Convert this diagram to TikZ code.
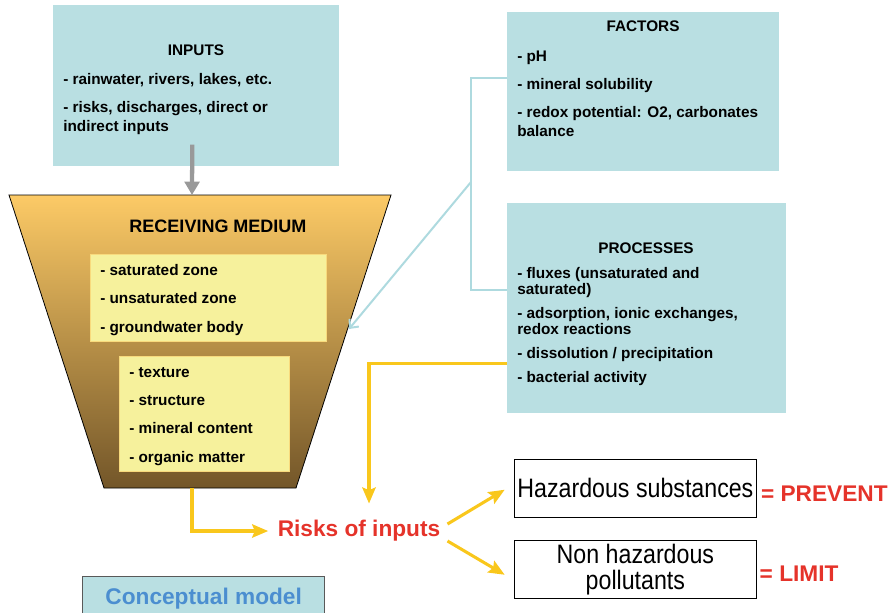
\documentclass[tikz,border=0pt]{standalone}
\usepackage{fontspec}
\setmainfont{Liberation Sans}
\newfontfamily\narrowfont[FakeStretch=0.87]{Liberation Sans}
\usetikzlibrary{arrows.meta,positioning}

\definecolor{boxteal}{HTML}{B9DFE2}
\definecolor{zoneyellow}{HTML}{F6F19C}
\definecolor{mediumtop}{HTML}{FCCA66}
\definecolor{mediummid}{HTML}{D7A24F}
\definecolor{mediumbot}{HTML}{735629}
\definecolor{flowyellow}{HTML}{F9C71C}
\definecolor{riskred}{HTML}{E5332A}
\definecolor{modelblue}{HTML}{4B8ED0}
\definecolor{linkteal}{HTML}{AEDADF}

\tikzset{
  tealbox/.style={fill=boxteal, anchor=north west, inner sep=0pt},
  boxtitle/.style={inner sep=0pt, font=\fontsize{11.5}{13.8}\selectfont\bfseries},
  items/.style={anchor=north west, inner sep=0pt, align=left, font=\fontsize{11.5}{13.8}\selectfont\bfseries},
  zonebox/.style={fill=zoneyellow, draw=zoneyellow!80!orange, line width=0.6pt, anchor=north west, inner sep=0pt},
  outcome/.style={draw, line width=0.6pt, anchor=north west, inner sep=0pt, align=center,
    minimum width=181.5pt, minimum height=43.5pt, font=\narrowfont\fontsize{20}{19.5}\selectfont},
  verdict/.style={inner sep=0pt, text=riskred, font=\fontsize{17}{20}\selectfont\bfseries},
  flow/.style={draw=flowyellow, line width=2.3pt, -{Stealth[length=12pt,width=10pt,inset=2pt]}},
  tline/.style={draw=linkteal, line width=1.5pt},
}

\begin{document}
\begin{tikzpicture}[x=0.75pt,y=-0.75pt]
\useasboundingbox (0,0) rectangle (893,612);
\clip (0,0) rectangle (893,612);

% inputs
\node[tealbox, minimum width=214.5pt, minimum height=120.75pt] (inputs) at (53,5) {};
\node[boxtitle] (inputs-title) at (196,50) {INPUTS};
\node[items] (inputs-items) at (63,73) {- rainwater, rivers, lakes, etc.\\[7.2pt]
  - risks, discharges, direct or\\[0.45pt] indirect inputs};

% receiving medium
\shade[top color=mediumtop, middle color=mediummid, bottom color=mediumbot, draw=black, line width=0.6pt]
  (9,195) -- (391,195) -- (296,488) -- (104,488) -- cycle;
\coordinate (mtop) at (192,195);
\coordinate (mbottom) at (192,488);
\coordinate (medge) at (349,329);
\node[inner sep=0pt, font=\fontsize{13.5}{16}\selectfont\bfseries] (medium) at (218,226) {RECEIVING MEDIUM};
\node[zonebox, minimum width=177pt, minimum height=65.25pt] (zones) at (90,254) {};
\node[items] (zones-items) at (100,264) {- saturated zone\\[7.6pt] - unsaturated zone\\[7.6pt] - groundwater body};
\node[zonebox, minimum width=127.5pt, minimum height=86.25pt] (soil) at (119,356) {};
\node[items] (soil-items) at (129,367) {- texture\\[7.4pt] - structure\\[7.4pt] - mineral content\\[7.4pt] - organic matter};

\draw[draw=black!40, line width=3.2pt, -{Triangle[length=10pt,width=11pt]}]
  ([shift={(-4,-22)}]inputs.south) -- (mtop);

% factors and processes
\node[tealbox, minimum width=204pt, minimum height=119.25pt] (factors) at (507,12) {};
\node[boxtitle] (factors-title) at (643,26) {FACTORS};
\node[items] (factors-items) at (517,51) {- pH\\[7.2pt] - mineral solubility\\[7.2pt]
  - redox potential: O2, carbonates\\[0.45pt] balance};

\node[tealbox, minimum width=209.25pt, minimum height=157.5pt] (processes) at (507,203) {};
\node[boxtitle] (processes-title) at (646,248) {PROCESSES};
\node[items, font=\fontsize{11.5}{12}\selectfont\bfseries] (processes-items) at (517,267)
  {- fluxes (unsaturated and\\ saturated)\\[6pt] - adsorption, ionic exchanges,\\ redox reactions\\[6pt]
   - dissolution / precipitation\\[6pt] - bacterial activity};

\coordinate (fork) at (471,182);
\draw[tline] ([yshift=10.1pt]factors.west) -- ++(-36,0) |- ([yshift=13.5pt]processes.west);
\draw[tline, -{Straight Barb[length=5pt,width=9pt]}] (fork) -- (medge);

% risks
\node[verdict] (risks) at (359,531) {Risks of inputs};
\draw[flow] ([yshift=37.5pt]processes.south west) -| ([xshift=7.5pt, yshift=12.5pt]risks.north);
\draw[flow] (mbottom) |- ([xshift=-7pt, yshift=0pt]risks.west);

\node[outcome] (hazard) at (514,459) {Hazardous substances};
\node[outcome] (nonhazard) at (514,540) {Non hazardous\\pollutants};
\node[verdict, right=3pt of hazard, yshift=-3.75pt] (prevent) {= PREVENT};
\node[verdict, right=2pt of nonhazard, yshift=-3pt] (limit) {= LIMIT};

\draw[flow] ([shift={(7,-7)}]risks.east) -- ([xshift=-7pt, yshift=-1pt]hazard.west);
\draw[flow] ([shift={(7,10)}]risks.east) -- ([xshift=-7pt, yshift=-4pt]nonhazard.west);

% model
\node[draw=black!65, line width=1pt, fill=boxteal, anchor=north west, minimum width=181.5pt,
  minimum height=33pt, text=modelblue, font=\fontsize{17}{20}\selectfont\bfseries] (model) at (82,576)
  {Conceptual model};
\end{tikzpicture}
\end{document}
